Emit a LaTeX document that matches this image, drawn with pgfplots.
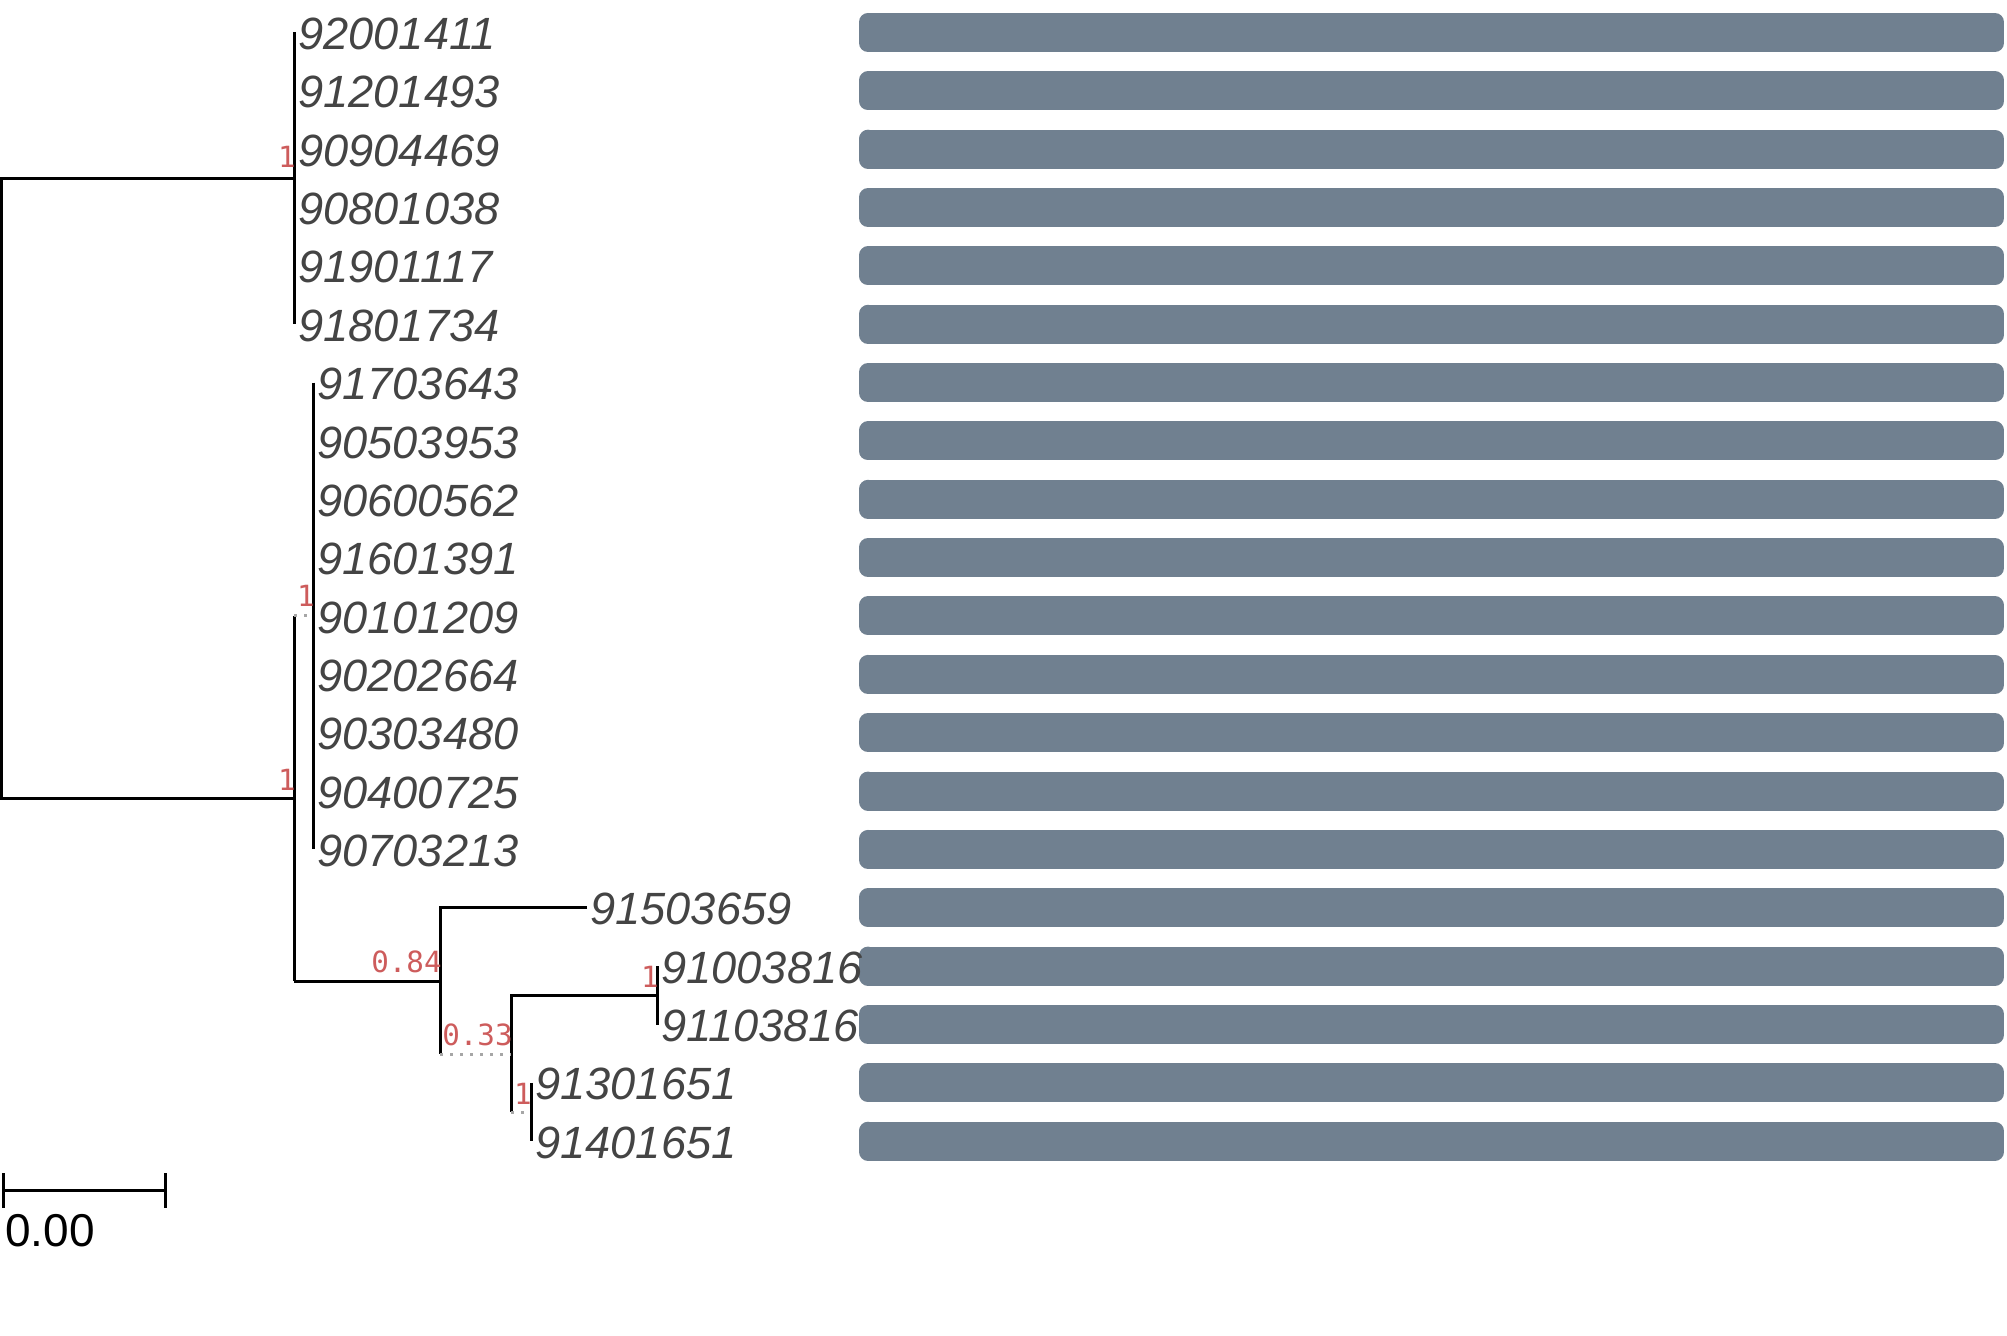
\documentclass[border=0pt]{standalone}
\usepackage{pgfplots}
\pgfplotsset{compat=1.18}
\usepackage{pgfplotstable}
\usepackage{fontspec}
\setmainfont{Liberation Sans}
\newfontfamily\mono{DejaVu Sans Mono}
\definecolor{barcol}{HTML}{708090}
\definecolor{tipcol}{HTML}{444444}
\definecolor{suppcol}{HTML}{CD5C5C}

% tip labels: x, y (pixels from top), name
\pgfplotstableread{
x y name
298 34 92001411
298 92.4 91201493
298 150.7 90904469
298 209.1 90801038
298 267.4 91901117
298 325.8 91801734
317 384.1 91703643
317 442.5 90503953
317 500.8 90600562
317 559.2 91601391
317 617.5 90101209
317 675.9 90202664
317 734.2 90303480
317 792.6 90400725
317 850.9 90703213
590 909.3 91503659
661 967.6 91003816
661 1026.0 91103816
535 1084.3 91301651
535 1142.7 91401651
}\tips

% node support values
\pgfplotstableread{
x y val
296 168 1
315 607 1
296 790 1
442 972 0.84
513 1045 0.33
659 987 1
532 1104 1
}\support

\begin{document}
\begin{tikzpicture}
\useasboundingbox (0,0) rectangle (1003.5pt,668pt);
\begin{axis}[at={(0,0)}, anchor=south west,
  width=1003.5pt, height=668pt, scale only axis,
  xmin=0, xmax=2007, ymin=0, ymax=1336, y dir=reverse,
  hide axis, clip=false, unbounded coords=jump]

% alignment bars (rounded rectangles)
\addplot[fill=barcol, draw=barcol, line width=9pt, line join=round, line cap=round] coordinates {
(868,22.0) (1995,22.0) (1995,43.0) (868,43.0) (868,22.0) (nan,nan)
(868,80.4) (1995,80.4) (1995,101.4) (868,101.4) (868,80.4) (nan,nan)
(868,138.7) (1995,138.7) (1995,159.7) (868,159.7) (868,138.7) (nan,nan)
(868,197.1) (1995,197.1) (1995,218.1) (868,218.1) (868,197.1) (nan,nan)
(868,255.4) (1995,255.4) (1995,276.4) (868,276.4) (868,255.4) (nan,nan)
(868,313.8) (1995,313.8) (1995,334.8) (868,334.8) (868,313.8) (nan,nan)
(868,372.1) (1995,372.1) (1995,393.1) (868,393.1) (868,372.1) (nan,nan)
(868,430.5) (1995,430.5) (1995,451.5) (868,451.5) (868,430.5) (nan,nan)
(868,488.8) (1995,488.8) (1995,509.8) (868,509.8) (868,488.8) (nan,nan)
(868,547.2) (1995,547.2) (1995,568.2) (868,568.2) (868,547.2) (nan,nan)
(868,605.5) (1995,605.5) (1995,626.5) (868,626.5) (868,605.5) (nan,nan)
(868,663.9) (1995,663.9) (1995,684.9) (868,684.9) (868,663.9) (nan,nan)
(868,722.2) (1995,722.2) (1995,743.2) (868,743.2) (868,722.2) (nan,nan)
(868,780.6) (1995,780.6) (1995,801.6) (868,801.6) (868,780.6) (nan,nan)
(868,838.9) (1995,838.9) (1995,859.9) (868,859.9) (868,838.9) (nan,nan)
(868,897.3) (1995,897.3) (1995,918.3) (868,918.3) (868,897.3) (nan,nan)
(868,955.6) (1995,955.6) (1995,976.6) (868,976.6) (868,955.6) (nan,nan)
(868,1014.0) (1995,1014.0) (1995,1035.0) (868,1035.0) (868,1014.0) (nan,nan)
(868,1072.3) (1995,1072.3) (1995,1093.3) (868,1093.3) (868,1072.3) (nan,nan)
(868,1130.7) (1995,1130.7) (1995,1151.7) (868,1151.7) (868,1130.7)
};

% tree branches
\addplot[black, line width=1.5pt, line cap=butt] coordinates {
(294,178.4) (1.5,178.4) (1.5,798.5) (294,798.5) (nan,nan)
(294,32.5) (294,324.3) (nan,nan)
(294,616) (294,981) (nan,nan)
(313,382.6) (313,849.4) (nan,nan)
(294,981) (440,981) (nan,nan)
(587,907.8) (440,907.8) (440,1054) (nan,nan)
(657,995.3) (511,995.3) (511,1112) (nan,nan)
(657,966.1) (657,1024.5) (nan,nan)
(531,1082.8) (531,1141.2)
};

% dotted short branches
\addplot[gray!70, line width=1.5pt, dash pattern=on 1.5pt off 3.5pt] coordinates {
(294,616) (313,616) (nan,nan)
(440,1054) (511,1054) (nan,nan)
(511,1112) (531,1112)
};

% tip labels
\addplot[draw=none, nodes near coords, point meta=explicit symbolic,
  every node near coord/.style={anchor=west, inner sep=0pt, text=tipcol,
    font=\fontsize{22.6}{25}\selectfont\itshape}]
  table[x=x, y=y, meta=name] {\tips};

% support values
\addplot[draw=none, nodes near coords, point meta=explicit symbolic,
  every node near coord/.style={anchor=base east, inner sep=0pt, text=suppcol,
    font=\mono\fontsize{14.6}{16}\selectfont}]
  table[x=x, y=y, meta=val] {\support};

% scale bar
\addplot[black, line width=1.5pt] coordinates {
(3,1190) (165,1190) (nan,nan)
(3,1173) (3,1208) (nan,nan)
(165,1173) (165,1208)
};
\addplot[draw=none, nodes near coords, point meta=explicit symbolic,
  every node near coord/.style={anchor=base west, inner sep=0pt, text=black,
    font=\fontsize{23}{25}\selectfont}]
  coordinates {(5,1246) [0.00]};

\end{axis}
\end{tikzpicture}
\end{document}
